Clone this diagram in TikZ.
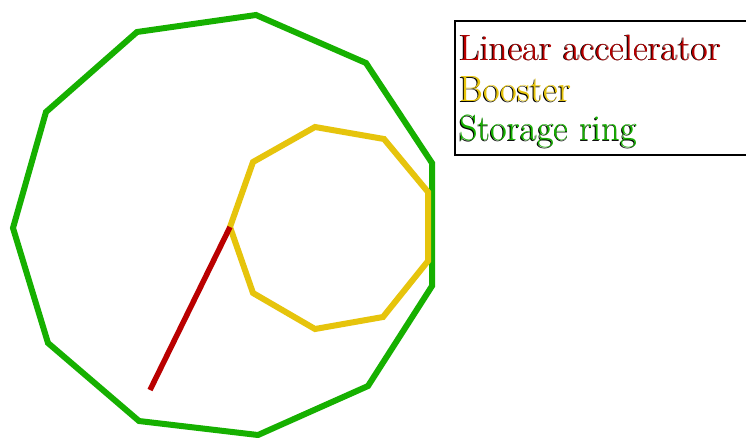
\documentclass[tikz,border=0pt]{standalone}
\usepackage{fontspec}
\definecolor{ringgreen}{RGB}{22,176,0}
\definecolor{boostyellow}{RGB}{230,196,12}
\definecolor{linacred}{RGB}{186,0,0}
\tikzset{
  ring/.style={draw=ringgreen,line width=6pt,line join=miter},
  boost/.style={draw=boostyellow,line width=6pt,line join=miter},
  linac/.style={draw=linacred,line width=5.5pt},
  legtext/.style={anchor=base west,inner sep=0pt,font=\rmfamily\fontsize{36.5}{40}\selectfont},
}
\newcommand{\shadowtext}[4]{%
  \node[legtext,text=black] at ([xshift=-0.8pt,yshift=-0.5pt]#2) {#4};
  \node[legtext,text=#3] (#1) at (#2) {#4};
}
\begin{document}
\begin{tikzpicture}[x=1pt,y=-1pt]
\useasboundingbox (0,0) rectangle (746,437);
\fill[white] (0,0) rectangle (746,437);
% storage ring
\draw[ring] (256,15) -- (137,32) -- (46,112) -- (13,228) -- (48,343) -- (139,421)
  -- (258,435) -- (368,386) -- (432,286) -- (432,163) -- (366,63) -- cycle;
% booster
\draw[boost] (315,127) -- (384,139) -- (428,192) -- (428,261) -- (383,317)
  -- (315,329) -- (253,293) -- (230,227) -- (253,162) -- cycle;
% linear accelerator
\coordinate (linA) at (230,227);
\coordinate (linB) at (150,390);
\draw[linac] (linA) -- (linB);
% legend
\draw[black,line width=1.8pt] (760,21) -- (455,21) -- (455,155) -- (760,155);
\coordinate (p1) at (459,60);
\coordinate (p2) at (459,101.5);
\coordinate (p3) at (459,140.5);
\shadowtext{l1}{p1}{linacred}{Linear accelerator}
\shadowtext{l2}{p2}{boostyellow}{Booster}
\shadowtext{l3}{p3}{ringgreen}{Storage ring}
\end{tikzpicture}
\end{document}
